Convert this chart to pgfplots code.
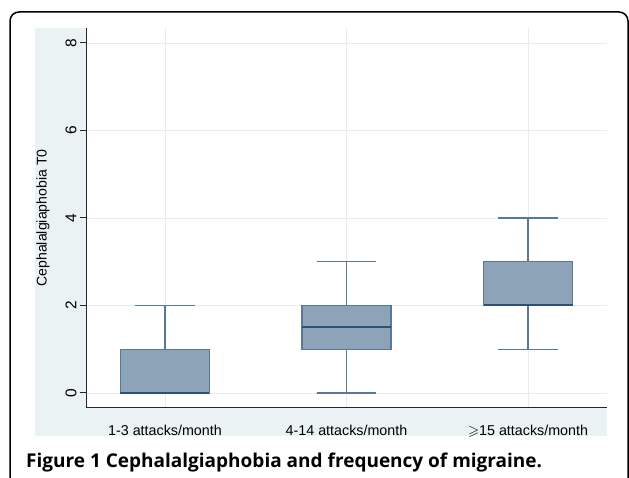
\documentclass[border=0pt]{standalone}
\usepackage{amssymb}
\usepackage{fontspec}
\setmainfont{Liberation Sans}
\newfontfamily\capfont{Open Sans}
\usepackage{pgfplots}
\pgfplotsset{compat=1.18}
\usepgfplotslibrary{statistics}
\definecolor{bgc}{HTML}{EAF2F3}
\definecolor{gridc}{HTML}{E4EEEE}
\definecolor{boxfill}{HTML}{8CA3B8}
\definecolor{boxedge}{HTML}{577898}
\definecolor{medc}{HTML}{2D5077}
\begin{document}
\begin{tikzpicture}[x=1pt,y=1pt]
\useasboundingbox (0,0) rectangle (629,478);
\fill[bgc] (35,42) rectangle (607,450);
\draw[line width=1.5pt, rounded corners=9pt] (10,-20) -- (10,466) -- (628,466) -- (628,-20);
\begin{axis}[at={(86pt,70pt)}, anchor=south west, scale only axis,
  width=521pt, height=380pt,
  font=\fontsize{14.3}{16}\selectfont,
  xmin=0.565, xmax=3.435, ymin=-0.343, ymax=8.343,
  axis background/.style={fill=white},
  axis x line*=bottom, axis y line*=left,
  axis line style={-, draw=black!85, line width=1pt},
  xtick={1,2,3},
  xticklabels={1-3 attacks/month, 4-14 attacks/month, $\geqslant$15 attacks/month},
  ytick={0,2,4,6,8},
  grid=major, grid style={draw=gridc, line width=0.8pt},
  tick align=outside, major tick length=6pt,
  xtick style={draw=none},
  ytick style={draw=black!85, line width=1pt},
  /pgf/number format/assume math mode=true,
  yticklabel style={rotate=90, anchor=south, font=\fontsize{15.5}{17}\selectfont},
  xticklabel style={yshift=-8pt, font=\fontsize{14.3}{16}\selectfont},
  ylabel={Cephalalgiaphobia T0},
  ylabel style={font=\fontsize{14.1}{16}\selectfont, at={(axis description cs:-0.0825,0.5)}, anchor=center},
  boxplot/draw direction=y,
  boxplot/every median/.style={draw=medc, line width=2pt},
  clip=false,
]
\addplot[boxplot prepared={draw position=1, lower whisker=0, lower quartile=0, median=0, upper quartile=1, upper whisker=2, box extend=0.49, whisker extend=0.33}, draw=boxedge, fill=boxfill, line width=1.4pt] coordinates {};
\addplot[boxplot prepared={draw position=2, lower whisker=0, lower quartile=1, median=1.5, upper quartile=2, upper whisker=3, box extend=0.49, whisker extend=0.33}, draw=boxedge, fill=boxfill, line width=1.4pt] coordinates {};
\addplot[boxplot prepared={draw position=3, lower whisker=1, lower quartile=2, median=2, upper quartile=3, upper whisker=4, box extend=0.49, whisker extend=0.33}, draw=boxedge, fill=boxfill, line width=1.4pt] coordinates {};
\end{axis}
\node[anchor=base west, inner sep=0] at (26,10.5) {\capfont\bfseries\fontsize{19}{22}\selectfont Figure 1 Cephalalgiaphobia and frequency of migraine.};
\end{tikzpicture}
\end{document}
